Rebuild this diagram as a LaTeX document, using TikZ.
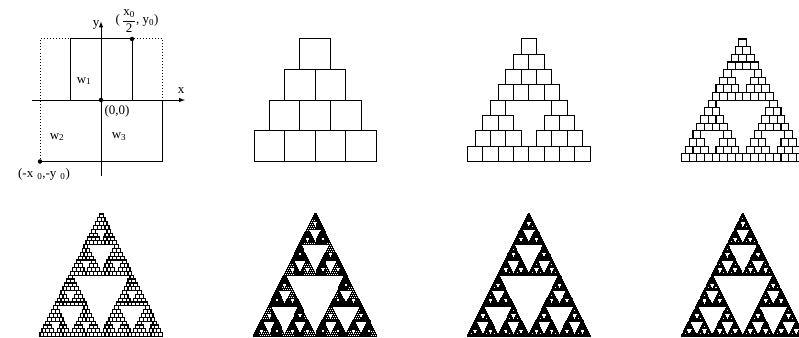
\documentclass[tikz,border=0pt]{standalone}
\usepackage{amsmath,amssymb}
\usepackage{fontspec}
\setmainfont{Liberation Serif}
\usepackage{tikz}

% squares left after #1 steps of the maps w1, w2, w3
\newcommand\gasket[4]{% level, left, top, side
  \ifnum#1=0
    \draw (#2,#3) rectangle ++(#4,#4);
  \else
    \begingroup
    \pgfmathsetmacro\gside{#4/2}%
    \pgfmathsetmacro\gmid{#2+#4/4}%
    \pgfmathsetmacro\gright{#2+#4/2}%
    \pgfmathsetmacro\glow{#3+#4/2}%
    \edef\gnext{%
      \noexpand\gasket{\the\numexpr#1-1}{\gmid}{#3}{\gside}%
      \noexpand\gasket{\the\numexpr#1-1}{#2}{\glow}{\gside}%
      \noexpand\gasket{\the\numexpr#1-1}{\gright}{\glow}{\gside}}%
    \gnext
    \endgroup
  \fi}

\begin{document}
\begin{tikzpicture}[x=1pt,y=-1pt,line width=1pt,>=latex,
    lbl/.style={inner sep=0pt,font=\fontsize{13}{15}\selectfont},
    dotmark/.style={circle,fill,inner sep=0pt,minimum size=4.5pt}]
  \useasboundingbox (0,0) rectangle (799,337);
  \clip (0,0) rectangle (799,337);

  % the square and its three images
  \draw[dotted] (40,161.5) -- (40,39) -- (162.5,39) -- (162.5,100);
  \draw (40,161.5) -- (162.5,161.5) -- (162.5,100);
  \draw (70.5,100) -- (70.5,39) -- (132,39) -- (132,100);
  \draw[->] (32,100) -- (185,100);
  \draw[->] (101,175.5) -- (101,21.5);
  \node[dotmark] (top) at (132,39) {};
  \node[dotmark] (orig) at (101,100) {};
  \node[dotmark] (corner) at (40,161.5) {};
  \node[lbl] (ylab) at (96,25) {y};
  \node[lbl] (xlab) at (181,91) {x};
  \node[lbl] (toplab) at (137,21)
    {(\,$\genfrac{}{}{0.5pt}{0}{\text{x}_{\text{0}}}{\text{2}}$, y\textsubscript{0})};
  \node[lbl] (origlab) at (117,111) {(0,0)};
  \node[lbl] (cornerlab) at (44,174)
    {(-x\hspace{4pt}\textsubscript{0},-y\hspace{4pt}\textsubscript{0})};
  \node[lbl] (wone) at (84,81) {w\textsubscript{1}};
  \node[lbl] (wtwo) at (57,137) {w\textsubscript{2}};
  \node[lbl] (wthree) at (119,137) {w\textsubscript{3}};

  % iterates 2 to 8
  \foreach \lev/\gx/\gy/\lw in {2/254/39/1, 3/467.5/39/1, 4/681.5/39/1.1,
      5/40/214/1.2, 6/254/214/1.4, 7/467.5/214/1.4, 8/681.5/214/1.3}
    {\begin{scope}[line width=\lw pt]
       \gasket{\lev}{\gx}{\gy}{122.5}
     \end{scope}}
\end{tikzpicture}
\end{document}
